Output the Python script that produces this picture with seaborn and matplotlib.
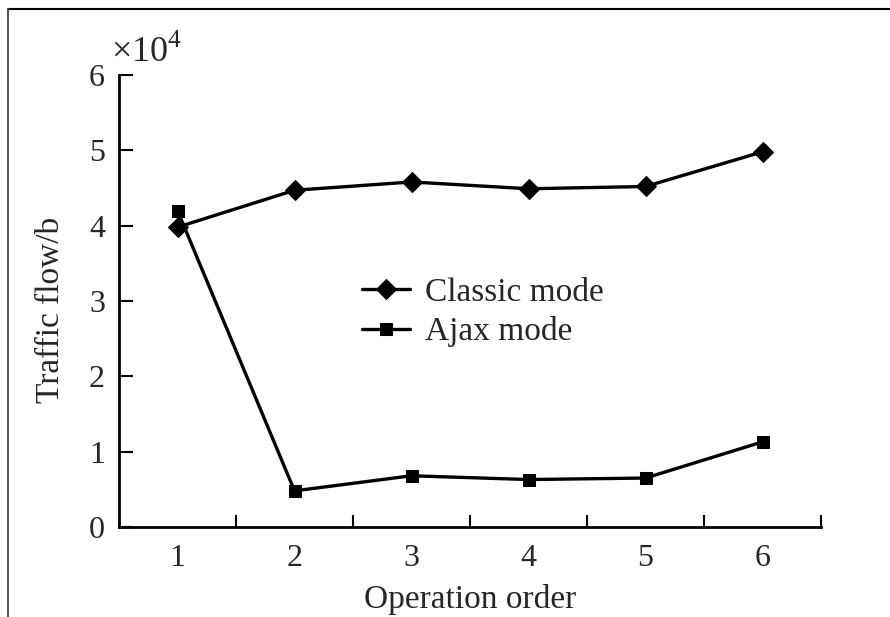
import matplotlib
matplotlib.use("Agg")
import matplotlib.pyplot as plt
from matplotlib.lines import Line2D
import seaborn as sns
import pandas as pd
import numpy as np

# ---- data ----
operation_order = [1, 2, 3, 4, 5, 6]
classic_mode = [3.98, 4.47, 4.58, 4.49, 4.52, 4.98]
ajax_mode = [4.20, 0.48, 0.68, 0.63, 0.65, 1.13]
y_ticks = [0, 1, 2, 3, 4, 5, 6]

sns.set_theme(style="ticks")
plt.rcParams['font.family'] = ['Liberation Serif', 'DejaVu Serif']
plt.rcParams['mathtext.fontset'] = 'custom'
plt.rcParams['mathtext.rm'] = 'Liberation Serif'
plt.rcParams['xtick.direction'] = 'in'
plt.rcParams['ytick.direction'] = 'in'

df = pd.DataFrame({
    "order": operation_order * 2,
    "value": classic_mode + ajax_mode,
    "mode": ["Classic mode"] * 6 + ["Ajax mode"] * 6,
})

fig = plt.figure(figsize=(8.9, 6.17), dpi=100)
ax = fig.add_axes([119/890, 1 - 527/617, (821 - 119)/890, (527 - 75)/617])

sns.lineplot(data=df[df["mode"] == "Classic mode"], x="order", y="value",
             color="black", marker="D", markersize=10, linewidth=2.4,
             markeredgecolor="black", ax=ax, label="Classic mode")
sns.lineplot(data=df[df["mode"] == "Ajax mode"], x="order", y="value",
             color="black", marker="s", markersize=9, linewidth=2.4,
             markeredgecolor="black", ax=ax, label="Ajax mode")

ax.set_xlim(0.5, 6.5)
ax.set_ylim(0, 6)
ax.set_xticks(operation_order)
ax.set_xticklabels([str(v) for v in operation_order])
ax.set_xticks(np.arange(1.5, 7.0, 1.0), minor=True)
ax.tick_params(axis='x', which='major', length=0, pad=12, labelsize=23)
ax.tick_params(axis='x', which='minor', direction='in', length=9, width=1.5, color='black')
ax.set_yticks(y_ticks)
ax.tick_params(axis='y', which='major', direction='in', length=10, width=1.5,
               color='black', pad=10, labelsize=23)
ax.tick_params(axis='y', which='minor', length=0)

for s in ["top", "right"]:
    ax.spines[s].set_visible(False)
for s in ["left", "bottom"]:
    ax.spines[s].set_linewidth(2)
    ax.spines[s].set_color("black")

ax.set_xlabel("Operation order", fontsize=24, labelpad=8)
ax.set_ylabel("Traffic flow/b", fontsize=24)
ax.yaxis.set_label_coords(-0.075, 0.48)

ax.text(-0.012, 1.012, r"$\times 10^{4}$", transform=ax.transAxes,
        fontsize=26, ha='left', va='bottom')

leg = ax.legend(loc="center left", bbox_to_anchor=(0.303, 0.475), frameon=False,
                fontsize=24, handlelength=1.45, handletextpad=0.45,
                labelspacing=0.25)

# figure frame: top and left lines
fig.add_artist(Line2D([8/890, 1.0], [1 - 9/617, 1 - 9/617], color="black",
                      linewidth=1.5, transform=fig.transFigure))
fig.add_artist(Line2D([8/890, 8/890], [0.0, 1 - 9/617], color="#555555",
                      linewidth=1.5, transform=fig.transFigure))

fig.savefig("out.png", dpi=100)
